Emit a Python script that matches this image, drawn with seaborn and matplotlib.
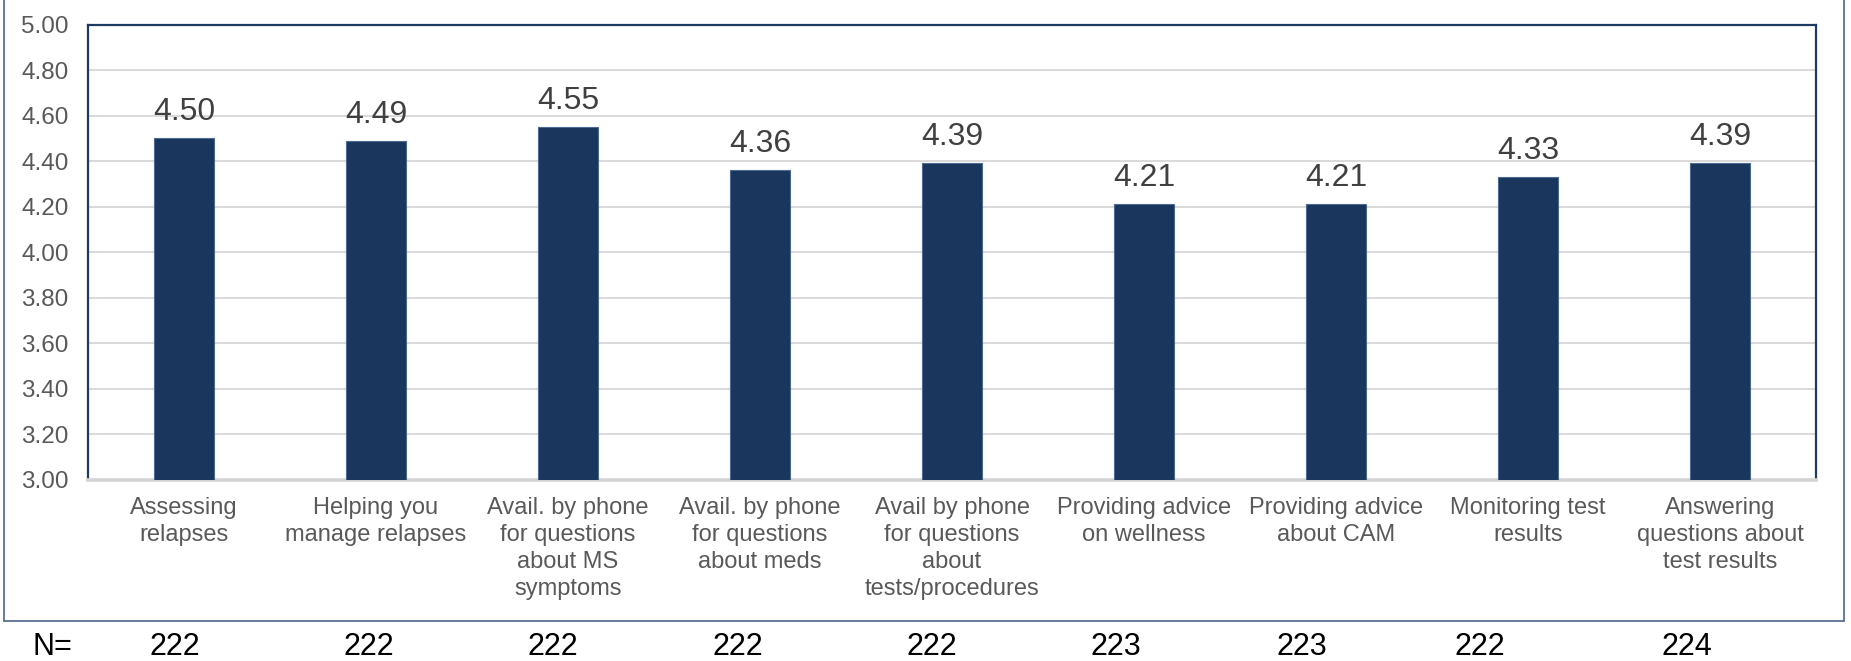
import matplotlib
matplotlib.use("Agg")
import matplotlib.pyplot as plt
from matplotlib.lines import Line2D
import seaborn as sns
import pandas as pd

categories = [
    "Assessing\nrelapses",
    "Helping you\nmanage relapses",
    "Avail. by phone\nfor questions\nabout MS\nsymptoms",
    "Avail. by phone\nfor questions\nabout meds",
    "Avail by phone\nfor questions\nabout\ntests/procedures",
    "Providing advice\non wellness",
    "Providing advice\nabout CAM",
    "Monitoring test\nresults",
    "Answering\nquestions about\ntest results",
]
scores = [4.50, 4.49, 4.55, 4.36, 4.39, 4.21, 4.21, 4.33, 4.39]
respondents = [222, 222, 222, 222, 222, 223, 223, 222, 224]
y_ticks = [3.00, 3.20, 3.40, 3.60, 3.80, 4.00, 4.20, 4.40, 4.60, 4.80, 5.00]

# layout (figure pixels)
W, H = 1851, 661
DPI = 100
n_row_x = [175, 369, 553, 738, 932, 1116, 1302, 1480, 1687]
n_label_x = 52
n_row_baseline = 655

df = pd.DataFrame({"item": categories, "score": scores})

sns.set_theme(style="white")
plt.rcParams["font.family"] = ["Liberation Sans", "DejaVu Sans"]

fig = plt.figure(figsize=(W / DPI, H / DPI), dpi=DPI)
ax = fig.add_axes([88 / W, 1 - 480 / H, (1816 - 88) / W, (480 - 24.5) / H])

sns.barplot(data=df, x="item", y="score", order=categories, color="#1a365d",
            saturation=1, width=0.31, edgecolor="#4a6a92", linewidth=0.8,
            ax=ax, zorder=3)

ax.set_ylim(3.0, 5.0)
ax.set_yticks(y_ticks)
ax.set_yticklabels([f"{t:.2f}" for t in y_ticks])
ax.yaxis.grid(True, color="#d9d9d9", linewidth=1.4, zorder=0)
ax.set_axisbelow(True)
ax.set_xlabel("")
ax.set_ylabel("")
ax.tick_params(axis="y", length=0, pad=14, labelsize=17.5, labelcolor="#595959")
ax.tick_params(axis="x", length=0, pad=12, labelsize=17, labelcolor="#595959")
for lbl in ax.get_xticklabels():
    lbl.set_linespacing(1.3)

for side in ("left", "top", "right"):
    ax.spines[side].set_color("#1f3a60")
    ax.spines[side].set_linewidth(1.6)
ax.spines["bottom"].set_color("#d4d4d4")
ax.spines["bottom"].set_linewidth(2.6)

for patch, v in zip(ax.patches, scores):
    cx = patch.get_x() + patch.get_width() / 2
    ax.annotate(f"{v:.2f}", (cx, v), xytext=(0, 13), textcoords="offset points",
                ha="center", va="baseline", fontsize=23, color="#404040")

# outer frame around the chart
fx0, fx1, fy0 = 3.5 / W, 1844 / W, 1 - 621 / H
frame_kw = dict(transform=fig.transFigure, color="#5a7092", linewidth=1.3)
fig.add_artist(Line2D([fx0, fx0], [fy0, 1.01], **frame_kw))
fig.add_artist(Line2D([fx1, fx1], [fy0, 1.01], **frame_kw))
fig.add_artist(Line2D([fx0, fx1], [fy0, fy0], **frame_kw))

# respondent counts row
narrow = ["Liberation Sans Narrow", "Liberation Sans", "DejaVu Sans"]
fig.text(n_label_x / W, 1 - n_row_baseline / H, "N=", ha="center",
         va="baseline", fontsize=22, color="black", family=narrow)
for x, n in zip(n_row_x, respondents):
    fig.text(x / W, 1 - n_row_baseline / H, str(n), ha="center",
             va="baseline", fontsize=22, color="black", family=narrow)

fig.savefig("out.png", dpi=DPI, facecolor="white")
